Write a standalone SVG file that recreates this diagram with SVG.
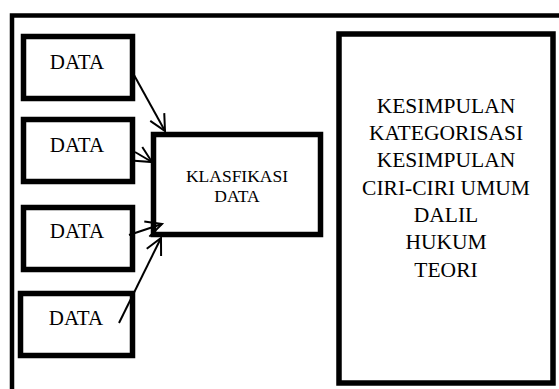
<svg xmlns="http://www.w3.org/2000/svg" width="559" height="389" viewBox="0 0 559 389">
<defs>
<style>
.box{fill:#fff;stroke:#000;stroke-width:5.5}
.frame{fill:#fff;stroke:#000;stroke-width:4.5}
text{font-family:'Liberation Serif',serif;fill:#000;text-anchor:middle}
.d{font-size:21px}
.k{font-size:17.5px}
.r{font-size:21.5px}
.c{stroke:#000;stroke-width:2;fill:none}
</style>
<marker id="ah" markerUnits="userSpaceOnUse" markerWidth="24" markerHeight="24" refX="18" refY="10" orient="auto" viewBox="0 0 24 20">
<path d="M2,2 L18,10 L2,18" fill="none" stroke="#000" stroke-width="2"/>
</marker>
</defs>
<rect x="0" y="0" width="559" height="389" fill="#fff"/>
<rect class="frame" x="12" y="15.5" width="620" height="420"/>
<g id="data1" font-family="Liberation Serif, serif"><rect class="box" x="23.5" y="36.5" width="109" height="62"/><text class="d" x="77" y="69">DATA</text></g>
<g id="data2" font-family="Liberation Serif, serif"><rect class="box" x="23.5" y="119.5" width="109" height="62"/><text class="d" x="77" y="152">DATA</text></g>
<g id="data3" font-family="Liberation Serif, serif"><rect class="box" x="23.5" y="207.5" width="109" height="62"/><text class="d" x="77" y="238">DATA</text></g>
<g id="data4" font-family="Liberation Serif, serif"><rect class="box" x="20.5" y="293.5" width="112" height="62"/><text class="d" x="76" y="325">DATA</text></g>
<g id="klasifikasi" font-family="Liberation Serif, serif"><rect class="box" x="153.5" y="134.5" width="167" height="100"/><text class="k" x="237" y="182">KLASFIKASI</text><text class="k" x="237" y="202">DATA</text></g>
<g id="kesimpulan" font-family="Liberation Serif, serif"><rect class="box" x="339" y="34" width="214" height="349"/>
<text class="r" x="446" y="113">KESIMPULAN</text>
<text class="r" x="446" y="140">KATEGORISASI</text>
<text class="r" x="446" y="167">KESIMPULAN</text>
<text class="r" x="446" y="195">CIRI-CIRI UMUM</text>
<text class="r" x="446" y="222">DALIL</text>
<text class="r" x="446" y="249">HUKUM</text>
<text class="r" x="446" y="277">TEORI</text>
</g>
<g id="connectors">
<line class="c" x1="134" y1="75" x2="165" y2="131" marker-end="url(#ah)"/>
<line class="c" x1="135" y1="152" x2="152" y2="162" marker-end="url(#ah)"/>
<line class="c" x1="129" y1="235" x2="162" y2="224" marker-end="url(#ah)"/>
<line class="c" x1="119" y1="323" x2="161" y2="238" marker-end="url(#ah)"/>
</g>
</svg>
